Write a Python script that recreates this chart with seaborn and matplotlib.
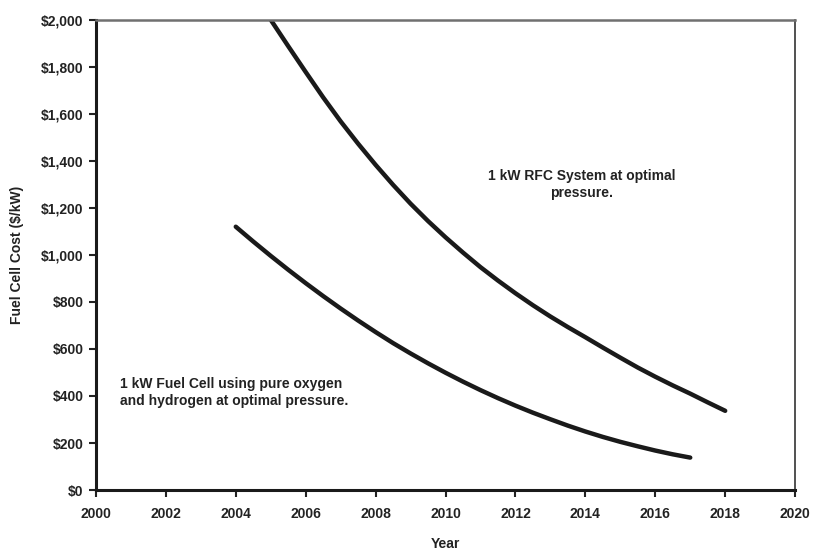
import numpy as np
import pandas as pd
import matplotlib
matplotlib.use("Agg")
import matplotlib.pyplot as plt
import seaborn as sns
from matplotlib.ticker import FuncFormatter, MultipleLocator

# values (every half year)
rfc_years = [2005.0, 2005.5, 2006.0, 2006.5, 2007.0, 2007.5, 2008.0, 2008.5, 2009.0,
             2009.5, 2010.0, 2010.5, 2011.0, 2011.5, 2012.0, 2012.5, 2013.0, 2013.5,
             2014.0, 2014.5, 2015.0, 2015.5, 2016.0, 2016.5, 2017.0, 2017.5, 2018.0]
rfc_cost = [2000, 1888, 1778, 1670, 1568, 1473, 1383, 1298, 1218,
            1144, 1075, 1010, 948, 891, 837, 786, 738, 693,
            650, 606, 563, 521, 482, 445, 410, 373, 337]

fc_years = [2004.0, 2004.5, 2005.0, 2005.5, 2006.0, 2006.5, 2007.0, 2007.5, 2008.0,
            2008.5, 2009.0, 2009.5, 2010.0, 2010.5, 2011.0, 2011.5, 2012.0, 2012.5,
            2013.0, 2013.5, 2014.0, 2014.5, 2015.0, 2015.5, 2016.0, 2016.5, 2017.0]
fc_cost = [1120, 1057, 996, 937, 880, 825, 772, 721, 672,
           625, 581, 539, 499, 461, 425, 391, 359, 329,
           301, 274, 249, 226, 205, 186, 168, 152, 138]

rfc_label = "1 kW RFC System at optimal\npressure."
fc_label = "1 kW Fuel Cell using pure oxygen\nand hydrogen at optimal pressure."

df = pd.concat([
    pd.DataFrame({"Year": rfc_years, "Cost": rfc_cost, "Series": "RFC"}),
    pd.DataFrame({"Year": fc_years, "Cost": fc_cost, "Series": "FC"}),
])

sns.set_style("white")
plt.rcParams['font.family'] = ['Liberation Sans', 'DejaVu Sans']
plt.rcParams['font.weight'] = 'bold'

fig = plt.figure(figsize=(8.13, 5.5), dpi=100)
ax = fig.add_axes([0.118, 0.109, 0.86, 0.855])

sns.lineplot(data=df, x="Year", y="Cost", units="Series", estimator=None,
             color="#1a1a1a", linewidth=3.2, ax=ax, legend=False,
             solid_capstyle='round', solid_joinstyle='round')

ax.set_xlim(2000, 2020)
ax.set_ylim(0, 2000)
ax.xaxis.set_major_locator(MultipleLocator(2))
ax.yaxis.set_major_locator(MultipleLocator(200))
ax.yaxis.set_major_formatter(FuncFormatter(lambda v, p: f"${v:,.0f}"))

ax.tick_params(axis='both', which='major', direction='out', length=5, width=1.5,
               color='#222222', labelsize=10, labelcolor='#222222', bottom=True, left=True)
ax.tick_params(axis='x', pad=7)
ax.tick_params(axis='y', pad=4)
for lbl in ax.get_xticklabels() + ax.get_yticklabels():
    lbl.set_fontweight('bold')

for side in ['left', 'bottom']:
    ax.spines[side].set_color('#1a1a1a')
    ax.spines[side].set_linewidth(2.2)
ax.spines['top'].set_color('#707070')
ax.spines['top'].set_linewidth(1.8)
ax.spines['right'].set_color('#333333')
ax.spines['right'].set_linewidth(1.2)

ax.set_xlabel("Year", fontsize=10, fontweight='bold', color='#222222', labelpad=12)
ax.set_ylabel("Fuel Cell Cost ($/kW)", fontsize=10, fontweight='bold', color='#222222', labelpad=12)

ax.text(2013.9, 1300, rfc_label, ha='center', va='center', fontsize=10,
        fontweight='bold', color='#222222', linespacing=1.3)
ax.text(2000.7, 415, fc_label, ha='left', va='center', fontsize=10,
        fontweight='bold', color='#222222', linespacing=1.3)

fig.savefig("out.png", dpi=100)
